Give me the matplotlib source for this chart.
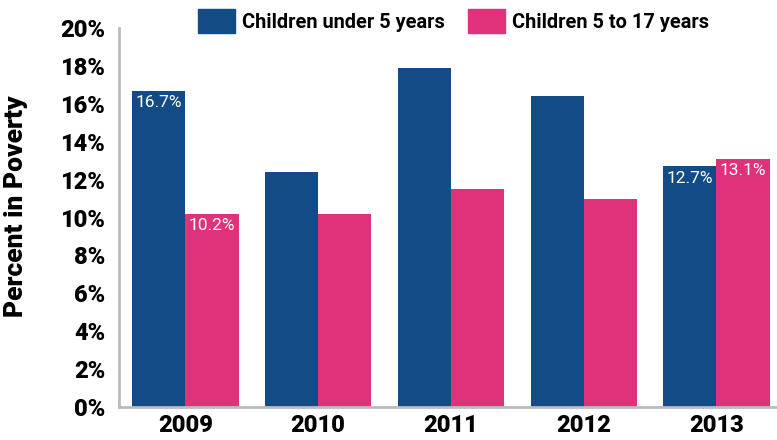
import numpy as np
import matplotlib
matplotlib.use("Agg")
import matplotlib.pyplot as plt
from matplotlib.patches import Patch

# data
years = ["2009", "2010", "2011", "2012", "2013"]
under5 = [16.7, 12.4, 17.9, 16.4, 12.7]
age5to17 = [10.2, 10.2, 11.5, 11.0, 13.1]
series_names = ["Children under 5 years", "Children 5 to 17 years"]
# which bars carry a value label
label_under5 = [True, False, False, False, True]
label_5to17 = [True, False, False, False, True]
yticks = [0, 2, 4, 6, 8, 10, 12, 14, 16, 18, 20]

blue = "#124b85"
pink = "#e0327a"
plt.rcParams["font.family"] = ["Roboto", "DejaVu Sans"]

fig = plt.figure(figsize=(7.77, 4.4), dpi=100)
ax = fig.add_axes([0.1532, 0.075, 0.8468, 0.861])

x = np.arange(len(years))
w = 0.4
b1 = ax.bar(x - w / 2, under5, w, color=blue)
b2 = ax.bar(x + w / 2, age5to17, w, color=pink)

# value labels inside the bar tops
for bars, vals, flags in [(b1, under5, label_under5), (b2, age5to17, label_5to17)]:
    for r, v, f in zip(bars, vals, flags):
        if f:
            ax.annotate("%.1f%%" % v, (r.get_x() + r.get_width() / 2, v),
                        xytext=(0, -3), textcoords="offset points",
                        ha="center", va="top", color="white", fontsize=12.5)

ax.set_xlim(-0.5, 4.456)
ax.set_ylim(0, 20)
ax.set_xticks(x)
ax.set_xticklabels(years, fontweight="heavy", fontsize=17)
ax.set_yticks(yticks)
ax.set_yticklabels(["%d%%" % t for t in yticks], fontweight="heavy", fontsize=17)
ax.tick_params(length=0, pad=10)
ax.tick_params(axis="x", pad=5)

for s in ["top", "right"]:
    ax.spines[s].set_visible(False)
for s in ["left", "bottom"]:
    ax.spines[s].set_color("#bbbbbb")
    ax.spines[s].set_linewidth(2)

fig.text(0.021, 0.532, "Percent in Poverty", rotation=90, ha="center", va="center",
         fontweight="heavy", fontsize=19)

# legend: shrink the font until the first entry is about as wide as in the reference
handles = [Patch(color=blue), Patch(color=pink)]
size = 15
for _ in range(3):
    leg = fig.legend(handles, series_names, loc="upper center", bbox_to_anchor=(0.584, 1.02),
                     ncol=2, frameon=False, handlelength=37 / (size * 100 / 72),
                     handleheight=29 / (size * 100 / 72),
                     handletextpad=7 / (size * 100 / 72), columnspacing=23 / (size * 100 / 72),
                     prop={"weight": "bold", "size": size})
    fig.canvas.draw()
    tw = leg.get_texts()[0].get_window_extent().width
    if abs(tw - 204) < 3:
        break
    leg.remove()
    size = size * 204 / tw

fig.savefig("out.png", dpi=100)
